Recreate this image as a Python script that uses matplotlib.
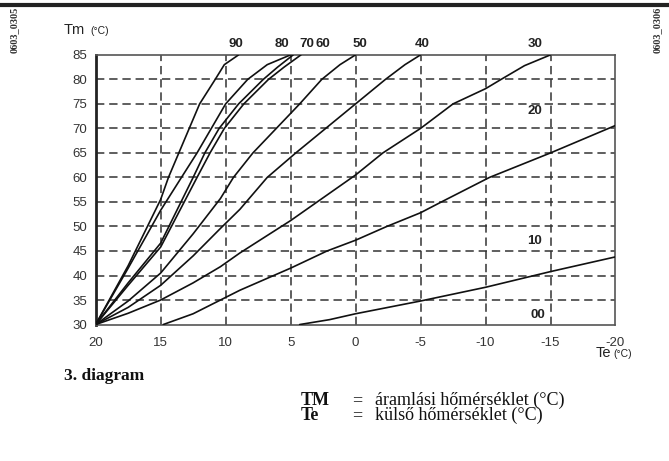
import numpy as np
import matplotlib
matplotlib.use('Agg')
from matplotlib import pyplot as plt

plt.rcParams['font.family'] = ['Liberation Sans', 'DejaVu Sans']
plt.rcParams['lines.scale_dashes'] = False
plt.rcParams['axes.unicode_minus'] = False

# curves: Te (outside temp) -> Tm (flow temp)
te90 = [20, 17.5, 15.0, 14.4, 13.6, 12.8, 12.0, 10.8, 10.1, 9.0]
tm90 = [30, 42.0, 55.5, 60, 65, 70, 75, 80, 83, 85]
te80 = [20, 17.5, 15.0, 13.4, 12.2, 11.1, 10.0, 8.3, 6.8, 5.0]
tm80 = [30, 41.5, 53.3, 60, 65, 70, 75, 80, 83, 85]
te70 = [20, 17.5, 15.0, 12.5, 11.6, 10.5, 9.0, 7.1, 6.0, 4.8]
tm70 = [30, 38.5, 46.6, 60, 65, 70, 75, 80, 82.5, 85]
te60 = [20, 17.5, 15.0, 12.2, 11.2, 10.1, 8.6, 6.7, 5.5, 4.2]
tm60 = [30, 38.0, 45.8, 60, 65, 70, 75, 80, 82.5, 85]
te50 = [20, 17.5, 15.0, 12.5, 10.4, 9.4, 7.9, 6.1, 4.3, 2.6, 1.2, 0]
tm50 = [30, 34.8, 40.5, 48.5, 55.7, 60, 65, 70, 75, 80, 83, 85]
te40 = [20, 17.5, 15, 12.5, 10.4, 8.9, 6.8, 4.6, 2.3, 0, -2.3, -3.8, -5]
tm40 = [30, 33.5, 38, 44, 49.6, 53.5, 60, 65, 70, 75, 80, 83, 85]
te30 = [20, 17.5, 15, 12.5, 10.4, 8.9, 5, 0, -2.1, -5, -7.5, -10, -11.2, -13, -15]
tm30 = [30, 32.3, 35, 38.5, 41.8, 44.6, 51.2, 60.5, 65, 70, 75, 78.1, 80, 82.8, 85]
te20 = [14.8, 12.5, 10.4, 8.9, 5, 2.2, 0, -2.4, -5, -6.6, -10.3, -15, -20]
tm20 = [30, 32.2, 35, 37, 41.5, 45, 47.2, 50, 52.8, 55, 60, 65, 70.6]
te10 = [4.3, 2, 0, -5, -10, -15, -20]
tm10 = [30, 31, 32.2, 34.8, 37.6, 40.8, 43.8]

curves = [(te90, tm90), (te80, tm80), (te70, tm70), (te60, tm60), (te50, tm50),
          (te40, tm40), (te30, tm30), (te20, tm20), (te10, tm10)]

# curve labels: text, Te, Tm
top_labels = ['90', '80', '70', '60', '50', '40', '30']
top_label_te = [9.2, 5.7, 3.75, 2.55, -0.35, -5.1, -13.8]
side_labels = ['20', '10', '00']
side_label_te = [-13.8, -13.8, -14.0]
side_label_tm = [73.5, 47.0, 32.0]

xticks = [20, 15, 10, 5, 0, -5, -10, -15, -20]
yticks = [30, 35, 40, 45, 50, 55, 60, 65, 70, 75, 80, 85]

fig = plt.figure(figsize=(6.69, 4.61), dpi=100)
ax = fig.add_axes([0.143, 0.296, 0.777, 0.585])

ax.set_xlim(20, -20)
ax.set_ylim(30, 85)

for x in xticks[1:-1]:
    ax.plot([x, x], [30, 85], color='#333333', lw=1.1, dashes=(6, 3.5), zorder=1)
for y in yticks[1:-1]:
    ax.plot([20, -20], [y, y], color='#333333', lw=1.1, dashes=(6, 3.5), zorder=1)

for te, tm in curves:
    ax.plot(te, tm, color='#111111', lw=1.2, zorder=3, solid_capstyle='round')

for lab, te in zip(top_labels, top_label_te):
    ax.text(te, 87.3, lab, ha='center', va='center', fontsize=9.5,
            color='#222222', fontweight='bold', clip_on=False)
for lab, te, tm in zip(side_labels, side_label_te, side_label_tm):
    ax.text(te, tm, lab, ha='center', va='center', fontsize=9.5,
            color='#222222', fontweight='bold')

ax.set_xticks(xticks)
ax.set_yticks(yticks)
ax.tick_params(length=0, labelsize=9.5, labelcolor='#333333', pad=6)
ax.tick_params(axis='x', pad=9)
ax.spines['left'].set_linewidth(2.0)
ax.spines['left'].set_color('#222222')
for s in ['top', 'right', 'bottom']:
    ax.spines[s].set_linewidth(1.2)
    ax.spines[s].set_color('#555555')

# texts around the chart
fig.text(64 / 669, 1 - 30 / 461, 'Tm', fontsize=10.5, color='#222222', va='center')
fig.text(90 / 669, 1 - 31 / 461, '(°C)', fontsize=7.5, color='#222222', va='center')
fig.text(596 / 669, 1 - 353 / 461, 'Te', fontsize=10.5, color='#222222', va='center')
fig.text(613 / 669, 1 - 354 / 461, '(°C)', fontsize=7.5, color='#222222', va='center')

fig.text(14 / 669, 1 - 30 / 461, '0603_0305', rotation=90, fontsize=7.5,
         family='Liberation Serif', fontweight='bold', color='#333333',
         ha='center', va='center')
fig.text(657 / 669, 1 - 30 / 461, '0603_0306', rotation=90, fontsize=7.5,
         family='Liberation Serif', fontweight='bold', color='#333333',
         ha='center', va='center')

fig.text(64 / 669, 1 - 376 / 461, '3. diagram', fontsize=12.5, fontweight='bold',
         family='Liberation Serif', color='#111111', va='center')

# legend block: symbols, equals signs, descriptions
fig.text(301 / 669, 1 - 408 / 461, 'TM\nTe', fontsize=13, fontweight='bold',
         family='Liberation Serif', color='#111111', va='center', linespacing=0.86)
fig.text(352 / 669, 1 - 408 / 461, '=\n=', fontsize=13,
         family='Liberation Serif', color='#111111', va='center', linespacing=0.86)
fig.text(375 / 669, 1 - 408 / 461, 'áramlási hőmérséklet (°C)\nkülső hőmérséklet (°C)',
         fontsize=13, family='Liberation Serif', color='#111111', va='center',
         linespacing=0.86)

# heavy rule at the top of the page
fig.add_artist(plt.Line2D([0, 1], [1 - 5 / 461, 1 - 5 / 461], color='#222222', lw=3))

fig.savefig('out.png', dpi=100)
